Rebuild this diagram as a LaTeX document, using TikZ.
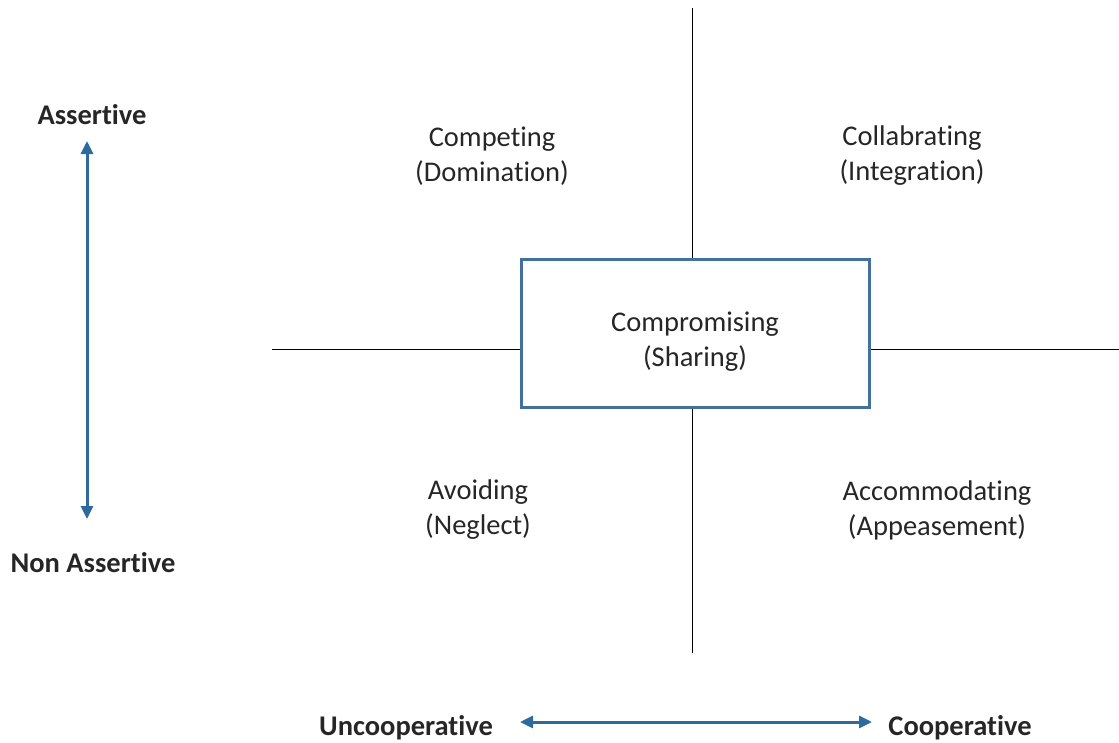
\documentclass[tikz,border=0pt]{standalone}
\usepackage{fontspec}
\setmainfont[Ligatures=NoCommon]{Carlito}
\usetikzlibrary{arrows.meta}
\definecolor{boxblue}{HTML}{41719C}
\definecolor{arrblue}{HTML}{2E6A9E}
\definecolor{txt}{HTML}{262626}
\tikzset{
  lbl/.style={align=center, text=txt, font=\fontsize{28.5}{35}\selectfont, inner sep=0pt},
  axlbl/.style={text=txt, font=\fontsize{28.5}{35}\selectfont\bfseries, inner sep=0pt},
  quad/.style={line width=1pt, black},
  dblarrow/.style={line width=3pt, arrblue, {Triangle[length=13pt,width=12pt]}-{Triangle[length=13pt,width=12pt]}},
  centerbox/.style={draw=boxblue, line width=3pt, minimum width=348pt, minimum height=148pt, inner sep=0pt}
}
\begin{document}
\begin{tikzpicture}[x=1pt,y=-1pt]
\useasboundingbox (0,0) rectangle (1119,742);
% center box
\node[centerbox] (box) at (695,333) {};
\node[lbl] (comp) at (695,342) {Compromising\\(Sharing)};
% quadrant line end points
\coordinate (top) at (692,8);
\coordinate (bottom) at (692,653);
\coordinate (left) at (272,349);
\coordinate (right) at (1119,349);
\draw[quad] (top) -- (top |- box.north);
\draw[quad] (bottom) -- (bottom |- box.south);
\draw[quad] (left) -- (left -| box.west);
\draw[quad] (right) -- (right -| box.east);
% quadrant labels
\node[lbl] (competing) at (492,156) {Competing\\(Domination)};
\node[lbl] (collab) at (912,156) {Collabrating\\(Integration)};
\node[lbl] (avoid) at (478,510) {Avoiding\\(Neglect)};
\node[lbl] (accom) at (937,510) {Accommodating\\(Appeasement)};
% axis labels
\node[axlbl] (assert) at (92,115) {Assertive};
\node[axlbl] (nonassert) at (93,563) {Non Assertive};
\node[axlbl] (uncoop) at (406,728) {Uncooperative};
\node[axlbl] (coop) at (960,728) {Cooperative};
% axis arrows
\coordinate (vtop) at (87,141);
\coordinate (vbot) at (87,519);
\coordinate (hleft) at (520,722);
\coordinate (hright) at (872,722);
\draw[dblarrow] (vtop) -- (vbot);
\draw[dblarrow] (hleft) -- (hright);
\end{tikzpicture}
\end{document}
